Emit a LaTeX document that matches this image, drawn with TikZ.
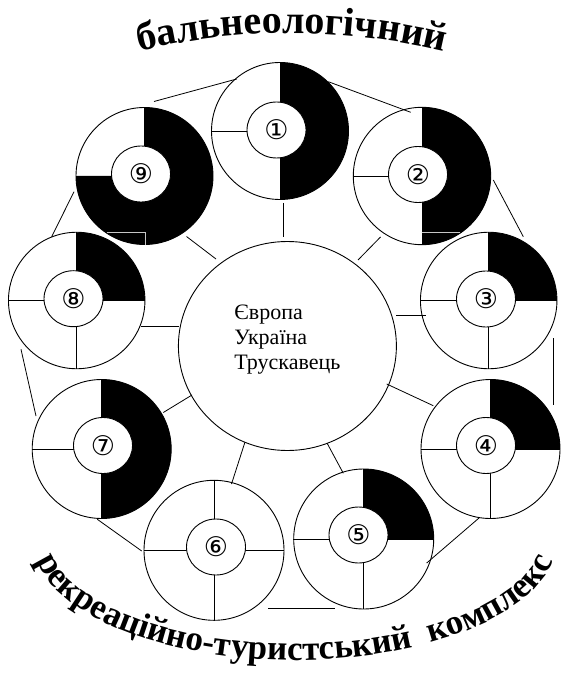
\documentclass[tikz,border=0pt]{standalone}
\usepackage{fontspec}
\setmainfont{Liberation Serif}
\newfontfamily\tnr{Liberation Serif}
\newfontfamily\symfont{DejaVu Sans}
\usetikzlibrary{shapes.geometric,decorations.text}
\newcommand\toptitle{\tnr\bfseries\fontsize{40}{40}\selectfont}
\newcommand\bottitle{\tnr\bfseries\fontsize{35}{35}\selectfont}
\newcommand\sect[5]{\fill (#1,#2) -- ++(#4:#3) arc[start angle=#4, end angle=#5, radius=#3] -- cycle;}
\tikzset{
  outerdisc/.style={circle, draw, line width=0.9pt, minimum size=#1, inner sep=0pt},
  innerdisc/.style={ellipse, draw, fill=white, line width=0.9pt, minimum width=59pt, minimum height=56pt, inner sep=0pt, font=\symfont\fontsize{27}{27}\selectfont},
  hubdisc/.style={ellipse, draw, line width=0.9pt, minimum width=218pt, minimum height=209pt, inner sep=0pt},
  hubtext/.style={align=left, inner sep=0pt, font=\tnr\fontsize{22}{25}\selectfont},
  conn/.style={line width=0.8pt},
  ghost/.style={gray!45, line width=0.6pt},
  divl/.style={line width=0.9pt},
}
\begin{document}
\begin{tikzpicture}[x=1pt,y=-1pt]
\useasboundingbox[fill=white] (0,0) rectangle (560,684);

% ---- disc 1
\sect{280}{131}{68.5}{270}{450}
\node[outerdisc=137] (d1) at (280,131) {};
\draw[divl] (d1.north) -- (d1.south) (d1.west) -- (d1.center);
\node[innerdisc] (n1) at (276.5,130) {①};
% ---- disc 2
\sect{422}{176}{68.7}{270}{450}
\node[outerdisc=137.4] (d2) at (422,176) {};
\draw[divl] (d2.north) -- (d2.south) (d2.west) -- (d2.center);
% ---- disc 9
\sect{144.5}{176}{68.5}{270}{540}
\node[outerdisc=137] (d9) at (144.5,176) {};
\draw[divl] (d9.north) -- (d9.center) (d9.west) -- (d9.center);
% ---- disc 8
\sect{76.7}{300.5}{68.2}{270}{360}
\node[outerdisc=136.5] (d8) at (76.7,300.5) {};
\draw[divl] (d8.north) -- (d8.south) (d8.west) -- (d8.east);
% ---- disc 3
\sect{488.7}{300.5}{68.2}{270}{360}
\node[outerdisc=136.5] (d3) at (488.7,300.5) {};
\draw[divl] (d3.north) -- (d3.south) (d3.west) -- (d3.east);
% ---- disc 7
\sect{101.7}{449}{69.5}{270}{450}
\node[outerdisc=139] (d7) at (101.7,449) {};
\draw[divl] (d7.north) -- (d7.south) (d7.west) -- (d7.center);
% ---- disc 4
\sect{490.5}{449}{69.5}{270}{360}
\node[outerdisc=139] (d4) at (490.5,449) {};
\draw[divl] (d4.north) -- (d4.south) (d4.west) -- (d4.east);
% ---- disc 5
\sect{363.7}{539}{70}{270}{360}
\node[outerdisc=140] (d5) at (363.7,539) {};
\draw[divl] (d5.north) -- (d5.south) (d5.west) -- (d5.east);
% ---- disc 6
\node[outerdisc=140] (d6) at (214,550.3) {};
\draw[divl] (d6.north) -- (d6.south) (d6.west) -- (d6.east);

% ghost outlines over the black areas
\draw[ghost] (106.7,232.7) -- (145,232.7) -- (145,245);
\draw[ghost] (421.7,232.7) -- (460,232.7);

% inner discs with numbers
\node[innerdisc] (n2) at (418,174.5) {②};
\node[innerdisc] (n9) at (141,174) {⑨};
\node[innerdisc] (n8) at (73.5,298.7) {⑧};
\node[innerdisc] (n3) at (486,299) {③};
\node[innerdisc] (n7) at (103,445.5) {⑦};
\node[innerdisc] (n4) at (486,445.5) {④};
\node[innerdisc] (n5) at (358.5,535) {⑤};
\node[innerdisc] (n6) at (216,547) {⑥};

% hub
\node[hubdisc] (hub) at (287.4,346) {};
\node[hubtext] (hubtxt) at (287.4,339.5) {Європа\\Україна\\Трускавець};

% connector end points
\coordinate (s1a) at (283.5,203);   \coordinate (s1b) at (283.5,237.5);
\coordinate (s2a) at (380.5,237);   \coordinate (s2b) at (358,260);
\coordinate (s9a) at (186.5,236.5); \coordinate (s9b) at (216,259);
\coordinate (s8a) at (140.7,326.7); \coordinate (s8b) at (178.5,326.7);
\coordinate (s3a) at (396,315.7);   \coordinate (s3b) at (425.7,315.7);
\coordinate (s7a) at (163.3,412.5); \coordinate (s7b) at (192,395);
\coordinate (s4a) at (386.7,384);   \coordinate (s4b) at (433.3,405.7);
\coordinate (s5a) at (327,443);     \coordinate (s5b) at (343.3,473.3);
\coordinate (s6a) at (245,442);     \coordinate (s6b) at (231.5,484);
\coordinate (r91a) at (154,101.5);  \coordinate (r91b) at (236.7,79);
\coordinate (r12a) at (328.3,81.7); \coordinate (r12b) at (410.7,112.3);
\coordinate (r23a) at (493.3,180);  \coordinate (r23b) at (523.3,236.7);
\coordinate (r34a) at (553.3,338.3);\coordinate (r34b) at (553.3,405);
\coordinate (r45a) at (479,518);    \coordinate (r45b) at (426.7,563);
\coordinate (r56a) at (268.3,608.7);\coordinate (r56b) at (335,608.7);
\coordinate (r67a) at (97.3,519.3); \coordinate (r67b) at (141.7,551);
\coordinate (r78a) at (21,349.3);   \coordinate (r78b) at (36,416);
\coordinate (r89a) at (51.7,236.7); \coordinate (r89b) at (74,191.7);

\foreach \c in {s1,s2,s9,s8,s3,s7,s4,s5,s6,r91,r12,r23,r34,r45,r56,r67,r78,r89}
  \draw[conn] (\c a) -- (\c b);

% titles
\path[decorate, decoration={text along path, text align=center,
  text={|\toptitle|бальнеологічний}}]
  (129,54) arc[start angle=255.5, end angle=284.5, radius=650];
\path[decorate, decoration={text along path, text align=center,
  text={|\bottitle|рекреаційно-туристський{\ }{\ }комплекс}}]
  (35.5,556.7) arc[start angle=172, end angle=8, x radius=262, y radius=120];
\end{tikzpicture}
\end{document}
